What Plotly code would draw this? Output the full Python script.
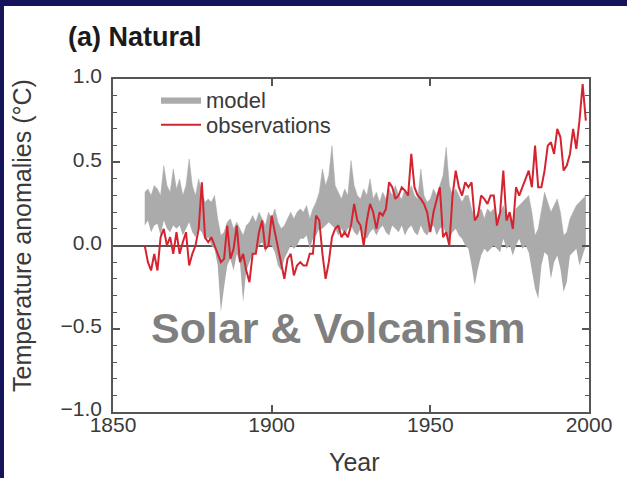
import plotly.graph_objects as go

years = list(range(1860, 2000))

observations = [
    0.00, -0.10, -0.15, -0.05, -0.15, 0.05, 0.10, 0.00, 0.05, -0.05,
    0.08, -0.05, 0.02, 0.08, -0.12, -0.05, 0.00, 0.10, 0.38, 0.05,
    0.02, 0.05, 0.00, -0.05, -0.10, -0.08, 0.12, -0.08, -0.02, 0.12,
    -0.10, -0.05, -0.15, -0.22, -0.05, -0.05, 0.08, 0.15, -0.02, 0.00,
    0.18, 0.08, -0.02, -0.12, -0.20, -0.08, -0.05, -0.18, -0.12, -0.10,
    -0.12, -0.12, -0.05, -0.05, 0.18, 0.15, -0.05, -0.20, -0.10, 0.05,
    0.10, 0.12, 0.05, 0.08, 0.05, 0.12, 0.25, 0.15, 0.12, 0.00,
    0.15, 0.25, 0.20, 0.10, 0.20, 0.18, 0.22, 0.38, 0.35, 0.28,
    0.30, 0.35, 0.33, 0.30, 0.55, 0.35, 0.30, 0.28, 0.25, 0.20,
    0.08, 0.20, 0.28, 0.35, 0.05, 0.08, 0.00, 0.30, 0.45, 0.35,
    0.30, 0.38, 0.35, 0.38, 0.15, 0.18, 0.30, 0.28, 0.25, 0.30,
    0.30, 0.12, 0.20, 0.45, 0.15, 0.20, 0.10, 0.35, 0.30, 0.35,
    0.40, 0.45, 0.35, 0.60, 0.35, 0.35, 0.45, 0.60, 0.62, 0.55,
    0.70, 0.65, 0.45, 0.48, 0.55, 0.70, 0.58, 0.75, 0.97, 0.75,
]

model_lower = [
    0.12, 0.15, 0.08, 0.12, 0.13, 0.06, 0.15, 0.10, 0.08, 0.12,
    0.10, 0.12, 0.06, 0.10, 0.14, 0.08, 0.05, 0.10, 0.08, 0.03,
    0.05, 0.00, -0.02, -0.12, -0.40, -0.25, -0.12, -0.08, -0.15, -0.05,
    -0.10, -0.34, -0.15, -0.10, -0.05, -0.04, 0.00, 0.02, -0.04, 0.00,
    0.00, -0.04, -0.12, -0.15, -0.08, -0.04, 0.00, -0.02, 0.00, 0.04,
    0.04, 0.06, -0.02, 0.04, 0.06, 0.10, 0.10, 0.12, 0.14, 0.12,
    0.10, 0.06, 0.10, 0.06, 0.10, 0.12, 0.08, 0.06, 0.10, 0.06,
    0.04, 0.08, 0.10, 0.06, 0.10, 0.12, 0.08, 0.06, 0.12, 0.10,
    0.08, 0.12, 0.06, 0.10, 0.12, 0.08, 0.06, 0.12, 0.08, 0.06,
    0.10, 0.12, 0.06, 0.10, 0.12, 0.06, 0.04, 0.08, 0.10, 0.06,
    0.04, 0.00, -0.02, -0.12, -0.24, -0.14, -0.06, -0.02, -0.04, -0.02,
    0.00, -0.02, -0.04, 0.04, -0.02, 0.00, -0.06, 0.00, 0.04, -0.02,
    0.00, -0.04, -0.16, -0.26, -0.32, -0.12, -0.04, -0.06, -0.20, -0.10,
    -0.06, -0.14, -0.28, -0.22, -0.06, -0.04, -0.02, -0.12, -0.06, 0.00,
]

model_upper = [
    0.32, 0.34, 0.30, 0.36, 0.34, 0.30, 0.48, 0.36, 0.32, 0.46,
    0.34, 0.40, 0.30, 0.36, 0.52, 0.36, 0.30, 0.40, 0.32, 0.26,
    0.28, 0.26, 0.30, 0.16, 0.06, 0.08, 0.14, 0.16, 0.10, 0.14,
    0.10, 0.06, 0.12, 0.14, 0.18, 0.14, 0.20, 0.16, 0.12, 0.20,
    0.16, 0.22, 0.14, 0.10, 0.12, 0.16, 0.20, 0.16, 0.20, 0.22,
    0.20, 0.24, 0.16, 0.22, 0.26, 0.32, 0.46, 0.36, 0.42, 0.60,
    0.36, 0.32, 0.28, 0.34, 0.30, 0.51, 0.36, 0.30, 0.28, 0.34,
    0.30, 0.40, 0.28, 0.32, 0.26, 0.32, 0.28, 0.34, 0.30, 0.36,
    0.30, 0.28, 0.34, 0.30, 0.36, 0.30, 0.28, 0.46, 0.30, 0.26,
    0.28, 0.34, 0.30, 0.36, 0.42, 0.59, 0.36, 0.30, 0.34, 0.30,
    0.26, 0.30, 0.30, 0.22, 0.16, 0.20, 0.22, 0.16, 0.22, 0.20,
    0.22, 0.16, 0.20, 0.24, 0.16, 0.20, 0.14, 0.22, 0.24, 0.26,
    0.28, 0.30, 0.20, 0.06, 0.10, 0.22, 0.32, 0.26, 0.20, 0.24,
    0.28, 0.20, 0.06, 0.08, 0.16, 0.20, 0.24, 0.26, 0.28, 0.30,
]

x_ticks = [1850, 1900, 1950, 2000]
y_ticks = [-1.0, -0.5, 0.0, 0.5, 1.0]
y_tick_labels = ["\u22121.0", "\u22120.5", "0.0", "0.5", "1.0"]

W, H = 627, 478
L, R, T, B = 113, 589, 79, 412
NAVY = "#15145a"
AXC = "#555555"
FONT = "Liberation Sans, Arial, sans-serif"
TXT = "#3a3a3a"


def px_x(p):
    return (p - L) / (R - L)


def px_y(p):
    return (B - p) / (B - T)


fig = go.Figure()
fig.add_trace(go.Scatter(x=years, y=model_lower, mode="lines",
                         line=dict(width=0, color="#ababab"),
                         showlegend=False, hoverinfo="skip"))
fig.add_trace(go.Scatter(x=years, y=model_upper, mode="lines", fill="tonexty",
                         fillcolor="#ababab", line=dict(width=0.5, color="#ababab"),
                         name="model", legend="legend"))
fig.add_trace(go.Scatter(x=years, y=observations, mode="lines",
                         line=dict(width=2, color="#d42430"),
                         name="observations", legend="legend2"))

axis_common = dict(showline=True, linecolor=AXC, linewidth=1.5, mirror="ticks",
                   ticks="inside", tickcolor=AXC, tickwidth=1.5, showgrid=False,
                   layer="above traces")

legend_common = dict(xanchor="left", yanchor="middle", bgcolor="rgba(0,0,0,0)",
                     itemwidth=40, font=dict(family=FONT, size=22, color=TXT))

fig.update_layout(
    width=W, height=H,
    margin=dict(l=L, r=W - R, t=T, b=H - B, pad=0),
    paper_bgcolor="white", plot_bgcolor="white",
    xaxis=dict(range=[1850, 2000], tickvals=x_ticks, ticklen=7,
               zeroline=False, ticklabelstandoff=-7,
               tickfont=dict(family=FONT, size=21, color=TXT), **axis_common),
    yaxis=dict(range=[-1.0, 1.0], tickvals=y_ticks, ticktext=y_tick_labels,
               ticklen=7, zeroline=True, zerolinecolor=AXC, zerolinewidth=1.5,
               minor=dict(dtick=0.1, ticks="inside", ticklen=4, tickcolor=AXC,
                          tickwidth=1.2),
               ticklabelstandoff=5, ticklabelshift=-3,
               tickfont=dict(family=FONT, size=21, color=TXT), **axis_common),
    legend=dict(x=px_x(156), y=px_y(100), **legend_common),
    legend2=dict(x=px_x(156), y=px_y(125), **legend_common),
    showlegend=True,
)

# navy frame bars
fig.add_shape(type="rect", xref="paper", yref="paper",
              x0=px_x(0), x1=px_x(4), y0=px_y(H), y1=px_y(0),
              fillcolor=NAVY, line=dict(width=0), layer="above")
fig.add_shape(type="rect", xref="paper", yref="paper",
              x0=px_x(0), x1=px_x(W), y0=px_y(6), y1=px_y(0),
              fillcolor=NAVY, line=dict(width=0), layer="above")

fig.add_annotation(text="<b>(a) Natural</b>", xref="paper", yref="paper",
                   x=px_x(66), y=px_y(37), xanchor="left", yanchor="middle",
                   showarrow=False, font=dict(family=FONT, size=27, color="#1a1a1a"))
fig.add_annotation(text="Year", xref="paper", yref="paper",
                   x=px_x(354), y=px_y(462), xanchor="center", yanchor="middle",
                   showarrow=False, font=dict(family=FONT, size=25, color=TXT))
fig.add_annotation(text="Temperature anomalies (\u00b0C)", xref="paper", yref="paper",
                   x=px_x(22), y=px_y(236), xanchor="center", yanchor="middle",
                   textangle=-90, showarrow=False,
                   font=dict(family=FONT, size=25, color=TXT))
fig.add_annotation(text="<b>Solar &amp; Volcanism</b>", xref="paper", yref="paper",
                   x=px_x(338), y=px_y(328), xanchor="center", yanchor="middle",
                   showarrow=False, font=dict(family=FONT, size=43, color="#7f7f7f"))

fig.write_html("out.html")
